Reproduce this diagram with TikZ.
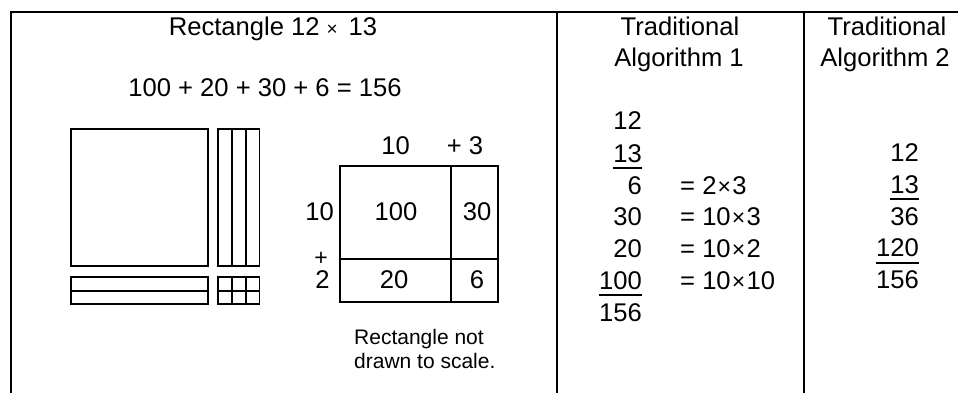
\documentclass[tikz,border=0pt]{standalone}
\usepackage{fontspec}
\setmainfont{Liberation Sans}
\newcommand{\mtimes}{\hspace{1.2pt}{\fontsize{23}{23}\selectfont ×}\hspace{1.2pt}}
\begin{document}
\begin{tikzpicture}[x=1pt,y=-1pt,
  txt/.style={inner sep=0pt, font=\fontsize{25.6}{30}\selectfont},
  smalltxt/.style={inner sep=0pt, font=\fontsize{21}{24}\selectfont},
  frame/.style={line width=2pt},
  blk/.style={line width=1.8pt},
  uline/.style={line width=1.8pt}]
\useasboundingbox (0,0) rectangle (958,393);
% frame
\draw[frame] (11,393) -- (11,12) -- (958,12);
\draw[frame] (557,12) -- (557,393);
\draw[frame] (804,12) -- (804,393);
% titles
\node[txt, anchor=base] (t1) at (273,36) {Rectangle 12\hspace{7pt}{\fontsize{19}{19}\selectfont ×}\hspace{11pt}13};
\node[txt, anchor=base] (sum) at (265,97) {100 + 20 + 30 + 6 = 156};
% base-ten blocks
\draw[blk] (71,129) rectangle (208,266);
\draw[blk] (218,129) rectangle (259.5,266);
\draw[blk] (232,129) -- (232,266);
\draw[blk] (245.7,129) -- (245.7,266);
\draw[blk] (71,277) rectangle (208,304);
\draw[blk] (71,290.7) -- (208,290.7);
\draw[blk] (218,277) rectangle (259.5,304);
\draw[blk] (232,277) -- (232,304);
\draw[blk] (245.7,277) -- (245.7,304);
\draw[blk] (218,290.7) -- (259.5,290.7);
% area model
\draw[blk] (340,166) rectangle (498,302);
\draw[blk] (451,166) -- (451,302);
\draw[blk] (340,259) -- (498,259);
\node[txt,anchor=base] (c10) at (395.5,154) {10};
\node[txt,anchor=base] (c3) at (465,154) {+ 3};
\node[txt,anchor=base east] (r10) at (334,220) {10};
\node[inner sep=0pt,font=\fontsize{23}{23}\selectfont,anchor=base] (rplus) at (321,265) {+};
\node[txt,anchor=base] (r2) at (322.5,288) {2};
\node[txt,anchor=base] (a100) at (396,220) {100};
\node[txt,anchor=base] (a30) at (477,220) {30};
\node[txt,anchor=base] (a20) at (394,288) {20};
\node[txt,anchor=base] (a6) at (477,288) {6};
\node[smalltxt,anchor=base west] (note1) at (354,344) {Rectangle not};
\node[smalltxt,anchor=base west] (note2) at (354,368) {drawn to scale.};
% headers
\node[txt,anchor=base] (h1a) at (680,36) {Traditional};
\node[txt,anchor=base] (h1b) at (679,67) {Algorithm 1};
\node[txt,anchor=base] (h2a) at (887,36) {Traditional};
\node[txt,anchor=base] (h2b) at (885,67) {Algorithm 2};
% algorithm 1
\node[txt,anchor=base east] (p12) at (642,130) {12};
\node[txt,anchor=base east] (p13) at (642,162.3) {13};
\node[txt,anchor=base east] (p6) at (642,194) {6};
\node[txt,anchor=base east] (p30) at (642,225.7) {30};
\node[txt,anchor=base east] (p20) at (642,257.3) {20};
\node[txt,anchor=base east] (p100) at (642,289.3) {100};
\node[txt,anchor=base east] (p156) at (642,321.7) {156};
\draw[uline] ([yshift=-6pt]p13.base west) -- ([yshift=-6pt]p13.base east);
\draw[uline] ([yshift=-6pt]p100.base west) -- ([yshift=-6pt]p100.base east);
\node[txt,anchor=base west] (e1) at (680,194) {= 2\mtimes3};
\node[txt,anchor=base west] (e2) at (680,225.7) {= 10\mtimes3};
\node[txt,anchor=base west] (e3) at (680,257.3) {= 10\mtimes2};
\node[txt,anchor=base west] (e4) at (680,289.3) {= 10\mtimes10};
% algorithm 2
\node[txt,anchor=base east] (q12) at (919,161.7) {12};
\node[txt,anchor=base east] (q13) at (919,193.3) {13};
\node[txt,anchor=base east] (q36) at (919,225) {36};
\node[txt,anchor=base east] (q120) at (919,256.7) {120};
\node[txt,anchor=base east] (q156) at (919,288.3) {156};
\draw[uline] ([yshift=-6pt]q13.base west) -- ([yshift=-6pt]q13.base east);
\draw[uline] ([yshift=-6pt]q120.base west) -- ([yshift=-6pt]q120.base east);
\end{tikzpicture}
\end{document}
